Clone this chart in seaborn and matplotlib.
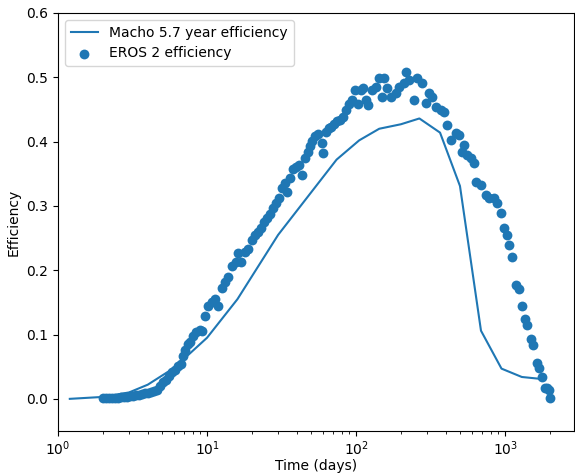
import numpy as np
import pandas as pd
import matplotlib
matplotlib.use("Agg")
import matplotlib.pyplot as plt
import seaborn as sns

# Macho 5.7 year efficiency curve
macho_t = [1.2, 2.0, 3.0, 4.0, 6.0, 10.0, 16.0, 30.0, 74.0, 105.0, 143.0,
           200.0, 266.0, 366.0, 498.0, 689.0, 946.0, 1295.0, 1738.0]
macho_eff = [0.0, 0.003, 0.010, 0.022, 0.048, 0.095, 0.155, 0.255, 0.372, 0.402,
             0.420, 0.427, 0.436, 0.414, 0.331, 0.106, 0.047, 0.034, 0.031]

# EROS 2 efficiency points
eros_t = [2.00, 2.10, 2.20, 2.30, 2.41, 2.52, 2.64, 2.77, 2.90, 3.04,
          3.18, 3.33, 3.49, 3.65, 3.83, 4.01, 4.20, 4.40, 4.60, 4.82,
          5.05, 5.29, 5.54, 5.80, 6.08, 6.37, 6.67, 6.88, 7.09, 7.43,
          7.66, 8.02, 8.40, 8.94, 9.21,
          9.65, 10.11, 10.75, 11.26, 11.79, 12.54, 13.14, 13.76, 14.64, 15.57,
          16.06, 16.82, 17.88, 18.74, 19.93, 20.87, 21.86, 22.89, 23.98, 25.11,
          26.30, 27.54, 28.85, 30.22, 31.65, 33.14, 34.18, 35.80, 37.50, 39.27,
          41.13, 43.08, 45.11, 47.25, 48.73, 50.26, 52.64, 55.13, 58.65, 59.56,
          62.37, 65.33, 68.42, 71.66, 75.05, 78.61, 82.33, 86.23, 90.31, 94.60,
          99.08, 103.8, 108.7, 112.1, 117.4, 121.1, 128.8, 137.0, 143.5, 150.3,
          155.0, 162.3, 172.6, 186.5, 195.3, 210.9, 217.6, 227.9, 246.1, 257.8,
          278.4, 296.1, 310.1, 324.8, 345.5, 373.3, 391.0, 409.5, 435.5, 470.6,
          492.9, 516.2, 532.4, 557.6, 592.9, 621.0, 640.4, 691.7, 747.1, 782.6,
          845.3, 885.4, 941.7, 986.3, 1033, 1065, 1116, 1187, 1243, 1302,
          1364, 1407, 1496, 1543, 1641, 1692, 1773, 1856, 1914, 1974, 2005]
eros_eff = [0.0016, 0.0016, 0.0016, 0.0016, 0.0016, 0.0016, 0.0031, 0.0031, 0.0031, 0.0047,
            0.0047, 0.0062, 0.0062, 0.0078, 0.0093, 0.0093, 0.0109, 0.0124, 0.0140, 0.0202,
            0.0264, 0.0295, 0.0358, 0.0420, 0.0451, 0.0513, 0.0544, 0.0669, 0.0762, 0.0855,
            0.0886, 0.0980, 0.1042, 0.1073, 0.1058,
            0.129, 0.1446, 0.1509, 0.1555, 0.1446, 0.1726, 0.182, 0.1897, 0.2068, 0.2131,
            0.2271, 0.2131, 0.2286, 0.2333, 0.2473, 0.2551, 0.2597, 0.2659, 0.2753, 0.2815,
            0.2877, 0.297, 0.3048, 0.3126, 0.3281, 0.3359, 0.3219, 0.3437, 0.3577, 0.3608,
            0.3639, 0.3484, 0.3748, 0.3841, 0.3935, 0.4012, 0.409, 0.4121, 0.3981, 0.3826,
            0.4152, 0.4215, 0.423, 0.4277, 0.4323, 0.4339, 0.4386, 0.4495, 0.4588, 0.465,
            0.4806, 0.4588, 0.4806, 0.4837, 0.465, 0.4572, 0.4806, 0.4852, 0.4992, 0.4697,
            0.4992, 0.4837, 0.4697, 0.4759, 0.4852, 0.4914, 0.5086, 0.4961, 0.465, 0.4992,
            0.4914, 0.4603, 0.4759, 0.4697, 0.4541, 0.4495, 0.4463, 0.4261, 0.4028, 0.4137,
            0.4106, 0.3841, 0.395, 0.3795, 0.3748, 0.367, 0.3375, 0.3328, 0.3173, 0.3126,
            0.3126, 0.3048, 0.2893, 0.2659, 0.2551, 0.2395, 0.2208, 0.1773, 0.1711, 0.1446,
            0.1244, 0.1151, 0.0933, 0.084, 0.056, 0.0482, 0.0342, 0.0171, 0.0171, 0.014, 0.0016]

macho = pd.DataFrame({"t": macho_t, "eff": macho_eff})
eros = pd.DataFrame({"t": eros_t, "eff": eros_eff})

fig = plt.figure(figsize=(5.75, 4.76), dpi=100)
ax = fig.add_axes([58 / 575, 45 / 476, 516 / 575, 418 / 476])

sns.lineplot(data=macho, x="t", y="eff", ax=ax, color="#1f77b4", linewidth=1.5,
             sort=False, label="Macho 5.7 year efficiency")
sns.scatterplot(data=eros, x="t", y="eff", ax=ax, color="#1f77b4", s=50,
                linewidth=0, label="EROS 2 efficiency")

ax.set_xscale("log")
ax.set_xlim(1, 2900)
ax.set_ylim(-0.05, 0.6)
ax.tick_params(axis="x", pad=2.5)
ax.set_xlabel("Time (days)", labelpad=1)
ax.set_ylabel("Efficiency")
ax.legend(loc="upper left")

fig.savefig("out.png", dpi=100)
